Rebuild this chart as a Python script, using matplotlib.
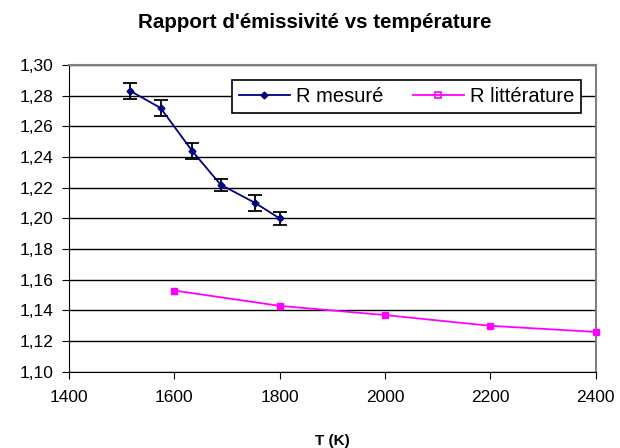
import numpy as np
import matplotlib
matplotlib.use('Agg')
import matplotlib.pyplot as plt
from matplotlib.ticker import FuncFormatter, MultipleLocator
from matplotlib.lines import Line2D

plt.rcParams['font.family'] = ['Liberation Sans', 'DejaVu Sans']

# Measured ratio
t_mes = [1517, 1574, 1634, 1688, 1754, 1800]
r_mes = [1.283, 1.272, 1.244, 1.222, 1.210, 1.200]
err_mes = [0.005, 0.005, 0.005, 0.004, 0.005, 0.004]

# Literature ratio
t_lit = [1600, 1800, 2000, 2200, 2400]
r_lit = [1.153, 1.143, 1.137, 1.130, 1.126]

mes_color = '#000080'
lit_color = '#FF00FF'

fig = plt.figure(figsize=(6.2, 4.48), dpi=100)
ax = fig.add_axes([0.111, 0.170, 0.850, 0.685])

ax.errorbar(t_mes, r_mes, yerr=err_mes, fmt='none', ecolor='black', elinewidth=1.3,
            capsize=5, capthick=1.3, zorder=3)
ax.plot(t_mes, r_mes, color=mes_color, marker='D', markersize=3.5, linewidth=1.3, zorder=4)
ax.plot(t_lit, r_lit, color=lit_color, marker='s', markersize=5, linewidth=1.3,
        clip_on=False, zorder=4)

ax.set_xlim(1400, 2400)
ax.set_ylim(1.10, 1.30)
ax.xaxis.set_major_locator(MultipleLocator(200))
ax.yaxis.set_major_locator(MultipleLocator(0.02))
ax.yaxis.set_major_formatter(FuncFormatter(lambda v, p: f'{v:.2f}'.replace('.', ',')))
ax.grid(axis='y', color='black', linewidth=1)
ax.set_axisbelow(True)

for s in ['top', 'right']:
    ax.spines[s].set_color('#808080')
    ax.spines[s].set_linewidth(1.5)
for s in ['left', 'bottom']:
    ax.spines[s].set_color('black')
ax.tick_params(direction='out', length=5, labelsize=12.5)
ax.tick_params(axis='y', pad=6)
ax.tick_params(axis='x', pad=8)

fig.text(315 / 620, 0.9375, "Rapport d'émissivité vs température", fontsize=14.8,
         fontweight='bold', ha='center', va='baseline')
ax.set_xlabel('T (K)', fontsize=11, fontweight='bold', labelpad=21)

handles = [
    Line2D([], [], color=mes_color, marker='D', markersize=3.5, linewidth=1.3),
    Line2D([], [], color=lit_color, marker='s', markersize=4, markerfacecolor='none',
           markeredgewidth=1.2, linewidth=1.3),
]
leg = ax.legend(handles, ['R mesuré', 'R littérature'], loc='upper right',
                bbox_to_anchor=(0.972, 0.951), ncol=2, fontsize=14.5, frameon=True,
                fancybox=False, borderpad=0.35, borderaxespad=0, handlelength=2.5,
                handletextpad=0.3, columnspacing=1.5, framealpha=1)
leg.get_frame().set_edgecolor('black')
leg.get_frame().set_linewidth(1.2)

fig.savefig('out.png', dpi=100)
